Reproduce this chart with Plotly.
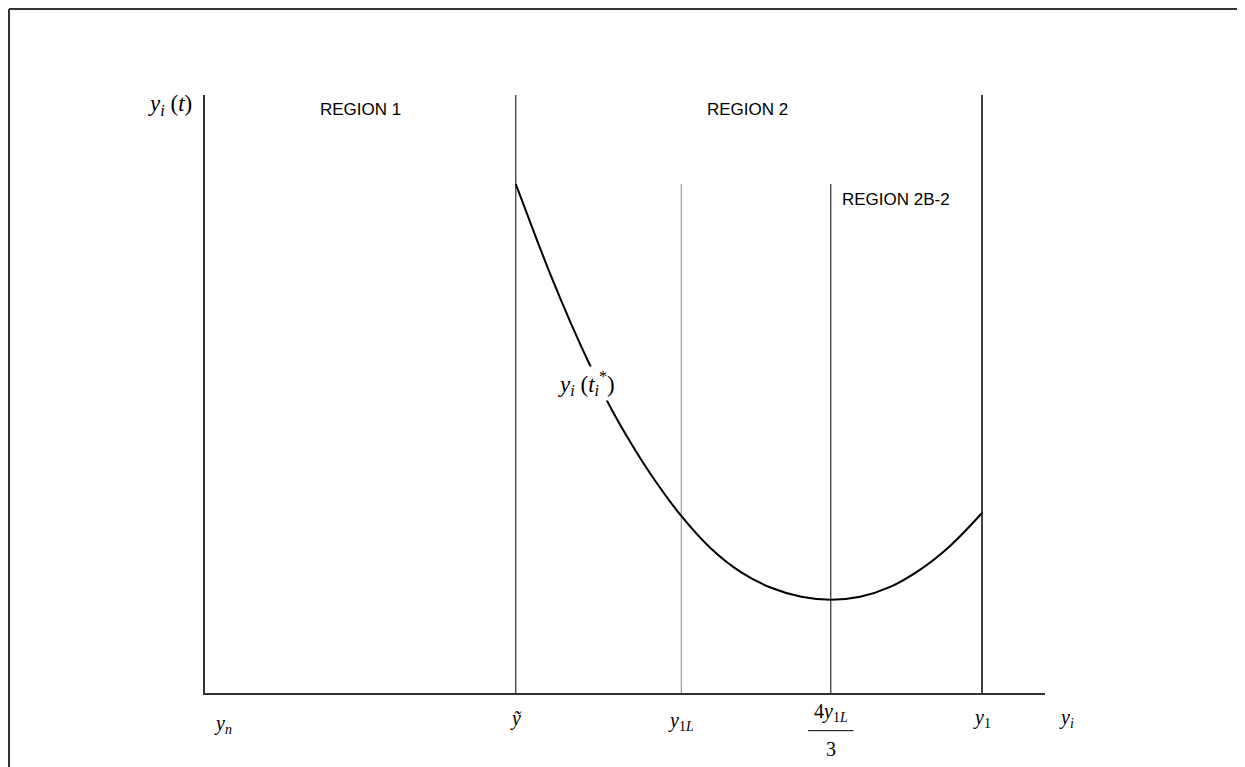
import plotly.graph_objects as go

# Curve y_i(t_i*) in abstract units (x: 0..10 along the y_i axis, y: 0..10 along y_i(t))
curve_x = [3.70, 3.88, 4.12, 4.36, 4.60, 4.83, 5.07, 5.31, 5.67, 6.02, 6.38, 6.74,
           7.10, 7.45, 7.80, 8.15, 8.51, 8.87, 9.25]
curve_y = [8.51, 7.84, 6.97, 6.17, 5.43, 4.77, 4.18, 3.65, 2.96, 2.42, 2.02, 1.76,
           1.61, 1.56, 1.61, 1.77, 2.06, 2.46, 3.01]

# Vertical boundary lines: position, top
vline_x = [3.70, 5.67, 7.45, 9.25]
vline_top = [10.0, 8.51, 8.51, 10.0]
vline_color = ["#000000", "#888888", "#000000", "#000000"]
vline_width = [1, 1, 1, 1.5]

# Tick labels along the horizontal axis
tick_x = [0.08, 3.70, 5.67, 7.45, 9.25, 10.25]
tick_y = [-0.53, -0.42, -0.48, -0.32, -0.42, -0.42]
tick_text = ["<i>y</i><sub><i>n</i></sub>", "<i>ỹ</i>", "<i>y</i><sub>1<i>L</i></sub>",
             "4<i>y</i><sub>1<i>L</i></sub>", "<i>y</i><sub>1</sub>", "<i>y</i><sub><i>i</i></sub>"]

region_labels = ["REGION 1", "REGION 2", "REGION 2B-2"]
region_x = [1.85, 6.46, 7.56]
region_y = [9.75, 9.75, 8.26]

AX_MIN, AX_MAX = 0, 10
SPAN = AX_MAX - AX_MIN


def px(v):
    return (v - AX_MIN) / SPAN


fig = go.Figure()

for x, top, c, w in zip(vline_x, vline_top, vline_color, vline_width):
    fig.add_trace(go.Scatter(x=[x, x], y=[0, top], mode="lines",
                             line=dict(color=c, width=w), hoverinfo="skip", showlegend=False))

fig.add_trace(go.Scatter(x=curve_x, y=curve_y, mode="lines", line_shape="spline",
                         line=dict(color="black", width=2), hoverinfo="skip", showlegend=False))

serif = dict(family="Liberation Serif, serif", size=20, color="black")
serif_big = dict(family="Liberation Serif, serif", size=23, color="black")
sans = dict(family="Liberation Sans, Arial, sans-serif", size=17, color="black")

annotations = []
for x, y, t in zip(tick_x, tick_y, tick_text):
    annotations.append(dict(x=px(x), y=px(y), xref="paper", yref="paper", text=t,
                            showarrow=False, font=serif,
                            xanchor="left" if x < 1 else "center", yanchor="middle"))
# denominator of 4 y_1L / 3
annotations.append(dict(x=px(vline_x[2]), y=px(-0.93), xref="paper", yref="paper", text="3",
                        showarrow=False, font=serif, xanchor="center", yanchor="middle"))
annotations.append(dict(x=px(-0.70), y=px(9.83), xref="paper", yref="paper",
                        text="<i>y</i><sub><i>i</i></sub> (<i>t</i>)", showarrow=False,
                        font=serif_big, xanchor="left", yanchor="middle"))
annotations.append(dict(x=4.18, y=5.18, xref="x", yref="y",
                        text="<i>y</i><sub><i>i</i></sub> (<i>t</i><sub><i>i</i></sub><sup>*</sup>)",
                        showarrow=False, font=serif_big, xanchor="left", yanchor="middle",
                        bgcolor="white"))
for t, x, y in zip(region_labels, region_x, region_y):
    annotations.append(dict(x=x, y=y, xref="x", yref="y", text=t, showarrow=False, font=sans,
                            xanchor="left" if t.endswith("2B-2") else "center", yanchor="middle"))

# plot area: 840 x 598 px, starting 197 px from the figure's left and 87 px from its top
FX0, FY0, PW, PH = -197 / 840, (598 + 86) / 598, 840, 598
shapes = [
    # fraction bar
    dict(type="line", xref="paper", yref="paper", x0=px(7.18), x1=px(7.72),
         y0=px(-0.63), y1=px(-0.63), line=dict(color="black", width=1)),
    # outer frame (top and left)
    dict(type="line", xref="paper", yref="paper", x0=FX0 + 1 / PW, x1=1.25, y0=FY0, y1=FY0,
         line=dict(color="#333333", width=2)),
    dict(type="line", xref="paper", yref="paper", x0=FX0 + 1 / PW, x1=FX0 + 1 / PW,
         y0=FY0, y1=-0.14, line=dict(color="#333333", width=2)),
]

# the page body adds an 8px offset, compensated in the margins
fig.update_layout(
    width=1245, height=767,
    margin=dict(l=197, r=208, t=87, b=82),
    paper_bgcolor="white", plot_bgcolor="white",
    showlegend=False,
    annotations=annotations,
    shapes=shapes,
    xaxis=dict(range=[AX_MIN, AX_MAX], showgrid=False, zeroline=False, showticklabels=False,
               showline=True, linecolor="#333333", linewidth=1.5, ticks="", fixedrange=True),
    yaxis=dict(range=[AX_MIN, AX_MAX], showgrid=False, zeroline=False, showticklabels=False,
               showline=True, linecolor="#333333", linewidth=1.5, ticks="", fixedrange=True),
)

fig.write_html("out.html")
